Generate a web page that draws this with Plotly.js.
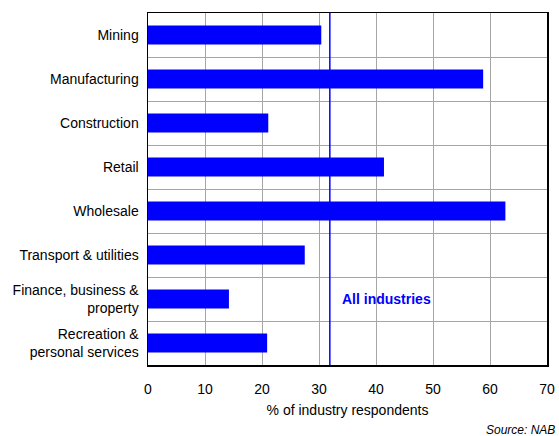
<!DOCTYPE html>
<html><head><meta charset="utf-8">
<script src="https://cdn.plot.ly/plotly-3.0.1.min.js"></script>
<style>body{margin:0;background:#fff}#c{width:559px;height:436px}</style>
</head><body><div id="c"></div>
<script>
const categories = ["Mining","Manufacturing","Construction","Retail","Wholesale","Transport & utilities","Finance, business &<br>property","Recreation &<br>personal services"];
const values = [30.4, 58.8, 21.1, 41.4, 62.7, 27.5, 14.2, 20.9];
const allIndustries = 31.9;
const xTicks = [0,10,20,30,40,50,60,70];
const boundaries = [0.5,1.5,2.5,3.5,4.5,5.5,6.5];

const font = {family: "Liberation Sans, Arial, sans-serif", size: 14, color: "#000"};
const data = [
  {type:"bar", orientation:"h", x: values, y: categories, marker:{color:"#0000FF", line:{width:0}}, hoverinfo:"none"},
  {type:"scatter", x:[null], y:[null], yaxis:"y2", showlegend:false, hoverinfo:"none"}
];
const layout = {
  width:559, height:436,
  margin:{l:148, r:12, t:13, b:71},
  paper_bgcolor:"#fff", plot_bgcolor:"#fff",
  font: font, showlegend:false, bargap:0.57,
  xaxis:{range:[0,70], tickvals:xTicks, showgrid:true, gridcolor:"#a6a6a6", gridwidth:1,
    zeroline:false, showline:true, mirror:true, linecolor:"#000", linewidth:1.5,
    ticks:"outside", ticklen:11, tickcolor:"rgba(0,0,0,0)",
    title:{text:"% of industry respondents", font:font, standoff:9}},
  yaxis:{type:"category", autorange:false, range:[7.5,-0.5], showgrid:false, ticks:"outside", ticklen:5, tickcolor:"rgba(0,0,0,0)",
    showline:true, mirror:true, linecolor:"#000", linewidth:1.5, zeroline:false},
  yaxis2:{overlaying:"y", range:[7.5,-0.5], autorange:false, tickvals:boundaries, showticklabels:false,
    showgrid:true, gridcolor:"#a6a6a6", gridwidth:1, zeroline:false, ticks:""},
  shapes:[{type:"line", xref:"x", yref:"paper", x0:allIndustries, x1:allIndustries, y0:0, y1:1,
    line:{color:"#0000FF", width:1.5}, layer:"above"}],
  annotations:[
    {x:allIndustries+1.7, y:6, xref:"x", yref:"y", xanchor:"left", yanchor:"middle", showarrow:false,
     text:"<b>All industries</b>", font:{family:font.family, size:14, color:"#0000FF"}},
    {x:1, y:0, xref:"paper", yref:"paper", xanchor:"right", yanchor:"top", yshift:-56, xshift:10, showarrow:false,
     text:"<i>Source: NAB</i>", font:{family:font.family, size:12, color:"#000"}}
  ]
};
Plotly.newPlot("c", data, layout, {displayModeBar:false, staticPlot:true});
</script></body></html>
